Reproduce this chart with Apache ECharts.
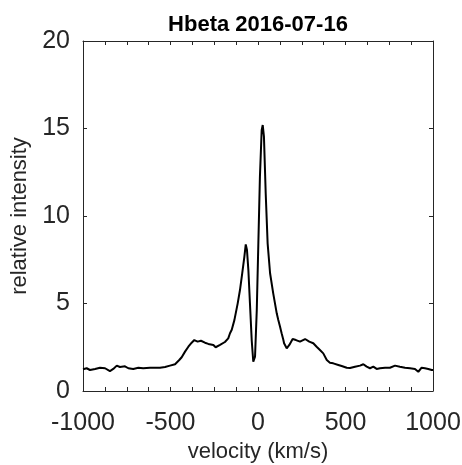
<!DOCTYPE html>
<html>
<head>
<meta charset="utf-8">
<script src="https://cdn.jsdelivr.net/npm/echarts@6/dist/echarts.min.js"></script>
<style>html,body{margin:0;padding:0;background:#fff}#c{width:462px;height:465px}</style>
</head>
<body>
<div id="c"></div>
<script>
const titleText = 'Hbeta 2016-07-16';
const xName = 'velocity (km/s)';
const yName = 'relative intensity';
const xTicks = [-1000, -500, 0, 500, 1000];
const yTicks = [0, 5, 10, 15, 20];

const velocity = [
  -1000, -979, -960, -931, -903, -874, -846, -827, -807, -789, -760, -741, -713, -684, -656,
  -617, -589, -560, -531, -503, -474, -450, -436, -417, -398, -379, -364, -345, -326, -303,
  -284, -255, -242, -217, -189, -170, -160, -150, -135, -116, -103, -90, -78, -70, -63,
  -55, -46, -36, -27, -17, -7, 2, 11, 21, 27, 34, 44, 55, 69, 87,
  107, 116, 126, 135, 145, 149, 164, 179, 198, 217, 240, 269, 293, 316, 335,
  354, 373, 393, 411, 430, 459, 478, 507, 526, 554, 583, 602, 621, 640, 659,
  678, 697, 726, 754, 783, 811, 840, 869, 897, 916, 935, 954, 973, 993, 1000
];
const intensity = [
  1.24, 1.30, 1.20, 1.26, 1.33, 1.30, 1.14, 1.26, 1.45, 1.37, 1.41, 1.30, 1.26, 1.33, 1.30,
  1.33, 1.33, 1.33, 1.37, 1.45, 1.53, 1.77, 1.93, 2.25, 2.53, 2.76, 2.91, 2.82, 2.87, 2.76,
  2.69, 2.63, 2.50, 2.63, 2.80, 3.01, 3.30, 3.50, 4.05, 5.01, 5.77, 6.73, 7.67, 8.38, 8.06,
  6.91, 5.01, 2.91, 1.67, 1.96, 4.63, 8.44, 12.25, 14.90, 15.20, 14.53, 11.30, 8.44, 6.73, 5.58,
  4.44, 4.06, 3.67, 3.30, 2.91, 2.73, 2.44, 2.63, 2.97, 2.91, 2.82, 2.97, 2.82, 2.73, 2.53,
  2.34, 2.15, 1.77, 1.62, 1.58, 1.49, 1.43, 1.33, 1.31, 1.39, 1.45, 1.53, 1.39, 1.30, 1.39,
  1.26, 1.30, 1.33, 1.33, 1.45, 1.39, 1.33, 1.30, 1.26, 1.10, 1.33, 1.30, 1.26, 1.20, 1.20
];

const dark = '#262626';
const chart = echarts.init(document.getElementById('c'), null, {renderer: 'canvas'});
const xMin = xTicks[0], xMax = xTicks[xTicks.length - 1], xInt = xTicks[1] - xTicks[0];
const yMin = yTicks[0], yMax = yTicks[yTicks.length - 1], yInt = yTicks[1] - yTicks[0];
const font = 'Liberation Sans, Arial, Helvetica, sans-serif';

function xAx(pos, labels) {
  return {
    type: 'value', position: pos, min: xMin, max: xMax, interval: xInt,
    axisLine: {show: true, onZero: false, lineStyle: {color: dark, width: 1}},
    axisTick: {show: true, inside: true, length: 4, lineStyle: {color: dark}},
    minorTick: {show: true, splitNumber: 4, length: 4, lineStyle: {color: dark}},
    splitLine: {show: false},
    axisLabel: {show: labels, color: dark, fontSize: 25, fontFamily: font, margin: 20,
      formatter: v => String(v)},
    name: labels ? xName : '', nameLocation: 'middle', nameGap: 50,
    nameTextStyle: {color: dark, fontSize: 22, fontFamily: font}
  };
}
function yAx(pos, labels) {
  return {
    type: 'value', position: pos, min: yMin, max: yMax, interval: yInt,
    axisLine: {show: true, onZero: false, lineStyle: {color: dark, width: 1}},
    axisTick: {show: true, inside: true, length: 4, lineStyle: {color: dark}},
    splitLine: {show: false},
    axisLabel: {show: labels, color: dark, fontSize: 25, fontFamily: font, margin: 13,
      padding: [4, 0, 0, 0], formatter: v => String(v)},
    name: labels ? yName : '', nameLocation: 'middle', nameGap: 46, nameRotate: 90,
    nameTextStyle: {color: dark, fontSize: 22, fontFamily: font}
  };
}

chart.setOption({
  animation: false,
  backgroundColor: '#fff',
  title: {
    text: titleText, left: 258, top: 14, padding: 0, textAlign: 'center',
    textStyle: {color: '#000', fontSize: 22, fontWeight: 'bold', fontFamily: font}
  },
  grid: {left: 83, top: 41, width: 350, height: 350, containLabel: false, outerBoundsMode: 'none'},
  xAxis: [xAx('bottom', true), xAx('top', false)],
  yAxis: [yAx('left', true), yAx('right', false)],
  series: [{
    type: 'line', xAxisIndex: 0, yAxisIndex: 0,
    data: velocity.map((v, i) => [v, intensity[i]]),
    showSymbol: false, symbol: 'none',
    lineStyle: {color: '#000', width: 2},
    clip: true
  }]
});
</script>
</body>
</html>
